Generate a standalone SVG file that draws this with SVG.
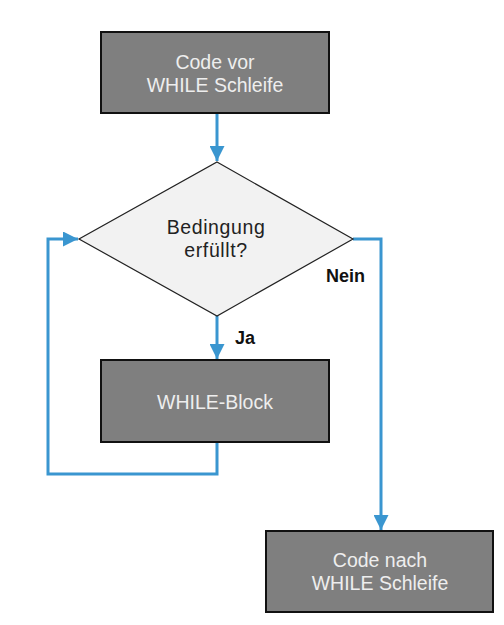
<svg xmlns="http://www.w3.org/2000/svg" width="504" height="625" viewBox="0 0 504 625">
<style>
.box{fill:#7f7f7f;stroke:#111;stroke-width:2}
.dia{fill:#f2f2f2;stroke:#222;stroke-width:1.2}
.lt{font-family:"Liberation Sans",Arial,sans-serif;font-size:19.5px;fill:#eeeeee;text-anchor:middle}
.dt{font-family:"Liberation Sans",Arial,sans-serif;font-size:19.5px;fill:#222;text-anchor:middle;letter-spacing:0.6px}
.lbl{font-family:"Liberation Sans",Arial,sans-serif;font-size:18px;font-weight:bold;fill:#111}
.con{fill:none;stroke:#3a96d0;stroke-width:3}
</style>
<defs>
<marker id="ah" viewBox="0 0 10 10" refX="10" refY="5" markerWidth="5" markerHeight="5" orient="auto" markerUnits="strokeWidth">
<path d="M0,0 L10,5 L0,10 Z" fill="#3a96d0"/>
</marker>
</defs>
<rect width="504" height="625" fill="#ffffff"/>
<g id="connectors">
<path class="con" d="M217,113 V161" marker-end="url(#ah)"/>
<path class="con" d="M217,316 V359" marker-end="url(#ah)"/>
<path class="con" d="M217,442 V474 H48 V239 H78" marker-end="url(#ah)"/>
<path class="con" d="M353,239 H381 V530" marker-end="url(#ah)"/>
<text class="lbl" x="235" y="344">Ja</text>
<text class="lbl" x="326" y="282">Nein</text>
</g>
<g id="start">
<rect class="box" x="101" y="32" width="228" height="81"/>
<text class="lt" x="215" y="69">Code vor</text>
<text class="lt" x="215" y="92">WHILE Schleife</text>
</g>
<g id="condition">
<polygon class="dia" points="217,162 353,239 217,316 79,239"/>
<text class="dt" x="216" y="234">Bedingung</text>
<text class="dt" x="216" y="257">erfüllt?</text>
</g>
<g id="block">
<rect class="box" x="101" y="360" width="228" height="82"/>
<text class="lt" x="215" y="409">WHILE-Block</text>
</g>
<g id="end">
<rect class="box" x="266" y="531" width="227" height="81"/>
<text class="lt" x="380" y="567">Code nach</text>
<text class="lt" x="380" y="590">WHILE Schleife</text>
</g>
</svg>
